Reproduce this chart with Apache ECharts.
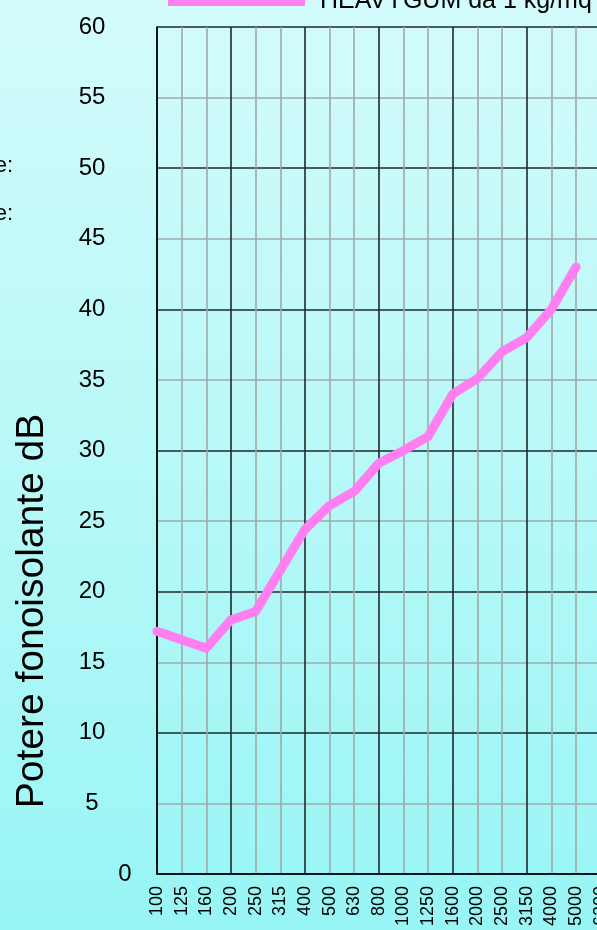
<!DOCTYPE html>
<html>
<head>
<meta charset="utf-8">
<script src="https://cdn.jsdelivr.net/npm/echarts@6/dist/echarts.min.js"></script>
<style>
  html, body { margin: 0; padding: 0; }
  body { background: linear-gradient(to bottom, #d3fbfb 0%, #b8f8f8 50%, #98f5f5 100%); }
  #chart { width: 597px; height: 930px; }
</style>
</head>
<body>
<div id="chart"></div>
<script>
// frequenze (Hz) - the last two columns fall outside the visible crop
const frequencies = ['100', '125', '160', '200', '250', '315', '400', '500', '630', '800',
    '1000', '1250', '1600', '2000', '2500', '3150', '4000', '5000', '6300', '8000']
// potere fonoisolante, dB
const heavyGum = [17.2, 16.6, 16.0, 18.0, 18.6, 21.5, 24.4, 26.1, 27.1, 29.1,
    30.0, 31.0, 34.0, 35.1, 37.0, 38.0, 40.0, 43.0, null, null]
const seriesName = 'HEAVYGUM da 1 kg/mq'
const yTicks = { min: 0, max: 60, step: 5 }

const FONT = 'Liberation Sans, Arial, sans-serif'
const chart = echarts.init(document.getElementById('chart'))

const option = {
    backgroundColor: 'transparent',
    textStyle: { fontFamily: FONT },
    animation: false,
    legend: {
        left: 163,
        top: -16,
        icon: 'rect',
        itemWidth: 137,
        itemHeight: 9,
        textStyle: {
            fontSize: 25,
            color: '#000',
            padding: [0, 0, 0, 10]
        },
        data: [seriesName]
    },
    grid: {
        left: 157,
        top: 27,
        width: 24.65 * (frequencies.length - 1),
        bottom: 56,
        outerBoundsMode: 'none'
    },
    xAxis: {
        type: 'category',
        data: frequencies,
        boundaryGap: false,
        axisLine: { show: true, lineStyle: { color: '#000', width: 1.5 } },
        axisTick: { show: false },
        axisLabel: {
            rotate: 90,
            interval: 0,
            margin: 12,
            fontSize: 18,
            color: '#000'
        },
        splitLine: {
            show: true,
            interval: 0,
            lineStyle: { color: ['#1e2a2a', '#a2a8a8', '#a2a8a8'], width: 1.6 }
        }
    },
    yAxis: {
        type: 'value',
        min: yTicks.min,
        max: yTicks.max,
        interval: yTicks.step,
        axisLine: { show: true, lineStyle: { color: '#000', width: 1.5 } },
        axisTick: { show: false },
        axisLabel: {
            align: 'center',
            margin: 65,
            fontSize: 24,
            color: '#000',
            formatter: v => (v === 0 ? '{z|0}' : String(v)),
            rich: {
                z: { fontSize: 24, color: '#000', padding: [0, 0, 0, 66] }
            }
        },
        splitLine: {
            show: true,
            lineStyle: { color: ['#1e2a2a', '#a2a8a8'], width: 1.6 }
        }
    },
    series: [{
        name: seriesName,
        type: 'line',
        data: heavyGum,
        showSymbol: false,
        connectNulls: false,
        itemStyle: { color: '#ff7ff0' },
        lineStyle: { color: '#ff7ff0', width: 9, join: 'round', cap: 'round' }
    }],
    graphic: [
        {
            type: 'text',
            x: 32,
            y: 611,
            rotation: Math.PI / 2,
            style: {
                text: 'Potere fonoisolante dB',
                fontSize: 39,
                fontFamily: FONT,
                fill: '#000',
                align: 'center',
                verticalAlign: 'middle'
            }
        },
        {
            type: 'text',
            x: 13,
            y: 166,
            style: {
                text: 'e:',
                fontSize: 22,
                fontFamily: FONT,
                fill: '#000',
                align: 'right',
                verticalAlign: 'middle'
            }
        },
        {
            type: 'text',
            x: 13,
            y: 214,
            style: {
                text: 'e:',
                fontSize: 22,
                fontFamily: FONT,
                fill: '#000',
                align: 'right',
                verticalAlign: 'middle'
            }
        }
    ]
}

chart.setOption(option)
</script>
</body>
</html>
